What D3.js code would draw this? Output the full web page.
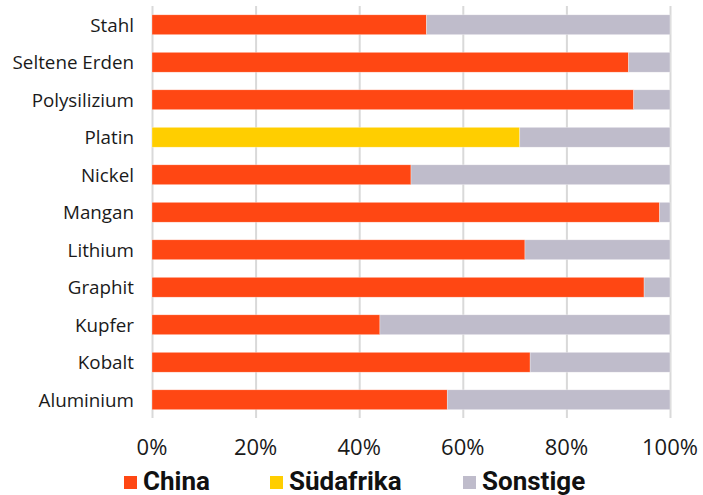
<!DOCTYPE html>
<html>
<head>
<meta charset="utf-8">
<script src="https://cdn.jsdelivr.net/npm/d3@7"></script>
<style>
  body { margin: 0; background: #fff; }
  .grid line { stroke: #d9d9d9; stroke-width: 2; }
  .grid .domain { display: none; }
  .ylab text { font-family: "Open Sans", sans-serif; font-size: 18.8px; fill: #1a1a1a; }
  .xlab text { font-family: "Open Sans", sans-serif; font-size: 22px; fill: #1a1a1a; }
  .legend text { font-family: Roboto, sans-serif; font-weight: bold; font-size: 26px; fill: #111; }
</style>
</head>
<body>
<svg id="chart" width="703" height="495"></svg>
<script>
// shares in percent
const categories = ["Stahl", "Seltene Erden", "Polysilizium", "Platin", "Nickel", "Mangan", "Lithium", "Graphit", "Kupfer", "Kobalt", "Aluminium"];
const china      = [53, 92, 93,  0, 50, 98, 72, 95, 44, 73, 57];
const suedafrika = [ 0,  0,  0, 71,  0,  0,  0,  0,  0,  0,  0];
const sonstige   = [47,  8,  7, 29, 50,  2, 28,  5, 56, 27, 43];
const seriesNames = ["China", "Südafrika", "Sonstige"];
const seriesColors = ["#ff4713", "#ffce00", "#bfbccb"];
const tickValues = [0, 20, 40, 60, 80, 100];

const svg = d3.select("#chart");

// table for the stack layout
const rows = categories.map((c, i) => ({
  name: c, China: china[i], "Südafrika": suedafrika[i], Sonstige: sonstige[i]
}));

const x = d3.scaleLinear().domain([0, 100]).range([152, 670]);
const y = d3.scaleBand().domain(categories).range([6, 418.5]).paddingInner(0.47).paddingOuter(0.235);
const color = d3.scaleOrdinal().domain(seriesNames).range(seriesColors);

// gridlines
svg.append("g")
  .attr("class", "grid")
  .attr("transform", "translate(0,6)")
  .call(d3.axisBottom(x).tickValues(tickValues).tickSize(412).tickFormat(""));

const stacked = d3.stack().keys(seriesNames)(rows);

svg.append("g")
  .selectAll("g")
  .data(stacked)
  .join("g")
  .attr("fill", d => color(d.key))
  .selectAll("rect")
  .data(d => d)
  .join("rect")
  .attr("x", d => x(d[0]))
  .attr("y", d => y(d.data.name))
  .attr("width", d => x(d[1]) - x(d[0]))
  .attr("height", y.bandwidth())
  .attr("stroke", "#fff")
  .attr("stroke-opacity", 0.5)
  .attr("stroke-width", 0.6);

// category labels
svg.append("g")
  .attr("class", "ylab")
  .selectAll("text")
  .data(categories)
  .join("text")
  .attr("x", 134)
  .attr("y", d => y(d) + y.bandwidth() / 2)
  .attr("dy", "0.36em")
  .attr("text-anchor", "end")
  .text(d => d);

// percent labels
svg.append("g")
  .attr("class", "xlab")
  .selectAll("text")
  .data(tickValues)
  .join("text")
  .attr("x", d => x(d))
  .attr("y", 455)
  .attr("text-anchor", "middle")
  .text(d => d + "%");

// legend
const legendX = [124, 270, 463];
const leg = svg.append("g").attr("class", "legend")
  .selectAll("g")
  .data(seriesNames)
  .join("g")
  .attr("transform", (d, i) => "translate(" + legendX[i] + ",476)");

leg.append("rect")
  .attr("width", 13)
  .attr("height", 13)
  .attr("fill", d => color(d));

leg.append("text")
  .attr("x", 19)
  .attr("y", 14)
  .text(d => d);
</script>
</body>
</html>
